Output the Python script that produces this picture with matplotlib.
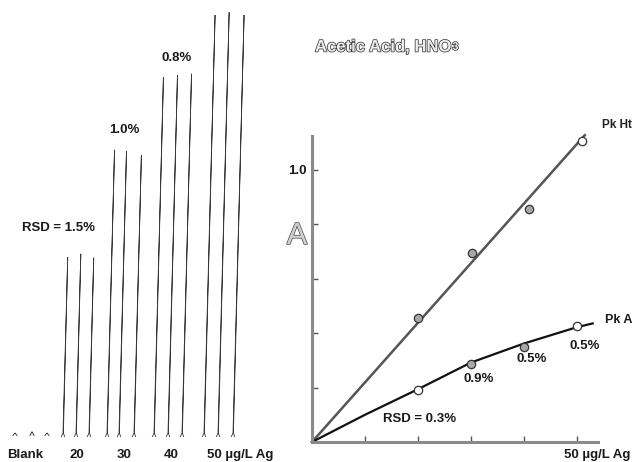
import matplotlib
matplotlib.use("Agg")
import matplotlib.pyplot as plt
import matplotlib.patheffects as pe
import numpy as np

plt.rcParams['font.family'] = ['Liberation Sans', 'DejaVu Sans']

# ---------------- data: left panel (peak traces) ----------------
blank_t = [15, 32, 47]
blank_h = [0.006, 0.009, 0.006]
t20 = [63, 76, 89]
h20 = [0.450, 0.458, 0.448]
t30 = [107, 119, 134]
h30 = [0.718, 0.715, 0.705]
t40 = [154, 168, 182]
h40 = [0.900, 0.905, 0.908]
t50 = [204, 218, 233]
h50 = [1.055, 1.062, 1.055]
group_labels = ["Blank", "20", "30", "40", "50 µg/L Ag"]
group_label_x = [25, 77, 124, 171, 207]
rsd_left = ["RSD = 1.5%", "1.0%", "0.8%"]
rsd_left_x = [59, 124, 177]
rsd_left_y = [0.5225, 0.7675, 0.9475]

# ---------------- data: right panel (calibration) ----------------
conc_ht = [20, 30.3, 41, 51]
pk_ht = [0.455, 0.694, 0.857, 1.107]
pk_ht_fill = ['#a8a8a8', '#a8a8a8', '#a8a8a8', 'white']
fit_ht_x = [0, 51.5]
fit_ht_y = [0, 1.128]

conc_a = [20, 30, 40, 50]
pk_a = [0.191, 0.286, 0.348, 0.426]
pk_a_fill = ['white', '#a8a8a8', '#a8a8a8', 'white']
fit_a_x = [0, 10, 20, 30, 40, 50, 53]
fit_a_y = [0, 0.100, 0.194, 0.292, 0.362, 0.422, 0.436]

rsd_right = ["RSD = 0.3%", "0.9%", "0.5%", "0.5%"]
rsd_right_x = [20.4, 31.5, 41.5, 51.5]
rsd_right_y = [0.085, 0.232, 0.305, 0.353]

W, H = 632, 462
fig = plt.figure(figsize=(W / 100, H / 100), dpi=100)

# ---------------- left panel ----------------
base_px = 437
ax1 = fig.add_axes([0, (H - base_px) / H, 300 / W, base_px / H])
ax1.set_xlim(0, 300)
ax1.set_ylim(0, base_px / 400)
ax1.axis('off')

drift = 10.5  # pen slant (time units per absorbance unit)
foot = 0.01


def draw_peak(t, h, lw=0.6):
    xs = [t - 1.8, t, t + drift * h, t + 0.4, t + 1.8]
    ys = [0, foot, h, foot, 0]
    ax1.plot(xs, ys, color='#3a3a3a', lw=lw, solid_joinstyle='miter')


for t, h in zip(blank_t, blank_h):
    ax1.plot([t - 2, t, t + 2], [0.004, 0.004 + h, 0.004], color='#3a3a3a', lw=0.7)
for ts, hs in [(t20, h20), (t30, h30), (t40, h40), (t50, h50)]:
    for t, h in zip(ts, hs):
        draw_peak(t, h)

for lab, x in zip(group_labels, group_label_x):
    ha = 'left' if 'Ag' in lab else 'center'
    ax1.text(x, -0.045, lab, ha=ha, va='center', fontsize=9.5,
             fontweight='bold', color='#1a1a1a', clip_on=False)
for lab, x, y in zip(rsd_left, rsd_left_x, rsd_left_y):
    ax1.text(x, y, lab, ha='center', va='center', fontsize=9.5,
             fontweight='bold', color='#1a1a1a')

# ---------------- right panel ----------------
ox, oy = 312, 442
ax2 = fig.add_axes([ox / W, (H - oy) / H, 286 / W, 306 / H])
ax2.set_xlim(0, 54)
ax2.set_ylim(0, 1.125)
ax2.patch.set_alpha(0)
for s in ['top', 'right']:
    ax2.spines[s].set_visible(False)
for s in ['left', 'bottom']:
    ax2.spines[s].set_color('#8a8a8a')
    ax2.spines[s].set_linewidth(2.2)
ax2.set_xticks([10, 20, 30, 40, 50])
ax2.set_xticklabels([])
ax2.set_yticks([0.2, 0.4, 0.6, 0.8, 1.0])
ax2.set_yticklabels(['', '', '', '', '1.0'])
ax2.tick_params(direction='in', length=4, width=1, color='#555555')
ax2.tick_params(axis='y', labelsize=9.5, pad=4)
for lab in ax2.get_yticklabels():
    lab.set_fontweight('bold')
    lab.set_color('#1a1a1a')

ax2.plot(fit_ht_x, fit_ht_y, color='#555555', lw=1.8, zorder=2, clip_on=False)
ax2.plot(fit_a_x, fit_a_y, color='#111111', lw=1.6, zorder=2, clip_on=False)
for x, y, c in zip(conc_ht, pk_ht, pk_ht_fill):
    ax2.plot(x, y, 'o', ms=6, mfc=c, mec='#333333', mew=0.9, zorder=3, clip_on=False)
for x, y, c in zip(conc_a, pk_a, pk_a_fill):
    ax2.plot(x, y, 'o', ms=6, mfc=c, mec='#333333', mew=0.9, zorder=3, clip_on=False)

ax2.text(54.7, 1.165, "Pk Ht", ha='left', va='center', fontsize=8.5,
         fontweight='bold', color='#222222', clip_on=False)
ax2.text(55.3, 0.449, "Pk A", ha='left', va='center', fontsize=9,
         fontweight='bold', color='#1a1a1a', clip_on=False)
for lab, x, y in zip(rsd_right, rsd_right_x, rsd_right_y):
    ax2.text(x, y, lab, ha='center', va='center', fontsize=9.5,
             fontweight='bold', color='#1a1a1a')

fig.text(630 / W, 1 - 455 / H, "50 µg/L Ag", ha='right', va='center',
         fontsize=9.5, fontweight='bold', color='#1a1a1a')

outline = [pe.withStroke(linewidth=1.1, foreground='#3a3a3a')]
t_main = fig.text(315 / W, 1 - 47 / H, "Acetic Acid, HNO", ha='left',
                  va='center', fontsize=12, fontweight='bold', color='#eeeeee',
                  path_effects=outline)
ax2.annotate("3", xy=(1.0, 0.18), xycoords=t_main, xytext=(1, 0),
             textcoords='offset points', ha='left', va='bottom',
             fontsize=8, fontweight='bold', color='#eeeeee',
             path_effects=outline, annotation_clip=False)
fig.text(297 / W, 1 - 236 / H, "A", ha='center', va='center', fontsize=22,
         color='#d0d0d0',
         path_effects=[pe.withStroke(linewidth=1.1, foreground='#555555')])

fig.savefig("out.png", dpi=100, facecolor='white')
